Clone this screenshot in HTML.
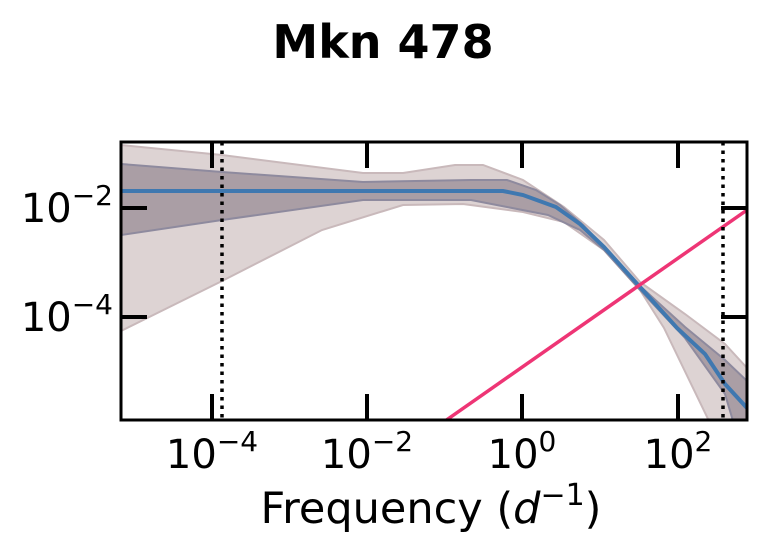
<!DOCTYPE html>
<html><head><style>body{margin:0;background:#fff}svg{display:block}</style></head><body>
<svg width="766" height="553" xmlns="http://www.w3.org/2000/svg" font-family="'DejaVu Sans','Liberation Sans',sans-serif">
<text x="383" y="58" text-anchor="middle" font-weight="bold" font-size="46">Mkn 478</text>
<defs><clipPath id="c"><rect x="121" y="142" width="626" height="278"/></clipPath></defs>
<g clip-path="url(#c)">
<path d="M121,145 L222,155 L363,173 L403,173 L455,165 L483,165 L523,180 L564,207 L604,240 L640,282 L685,314 L725,344 L747,368 L747,430 L709,421 L664,328 L640,290 L604,250 L564,222 L523,212 L463,204 L403,205 L322,230 L222,281 L121,331 Z" fill="#ddd3d3" stroke="#c9b9bb" stroke-width="2"/>
<path d="M121,164 L222,172 L363,182 L471,180 L507,180 L536,190 L560,205 L583,225 L604,247 L640,286 L685,327 L725,360 L747,381 L747,430 L733,421 L725,394 L685,338 L640,290 L604,250 L580,230 L548,215 L507,207 L471,200 L363,200 L222,220 L121,235 Z" fill="#aa9ea5" stroke="#8e8a9e" stroke-width="2"/>
<path d="M121,191 L503,191 L523,195 L556,207 L580,224 L604,247 L640,287 L677,328 L705,354 L725,384 L747,408" fill="none" stroke="#e8944e" stroke-width="2"/>
<path d="M121,191 L503,191 L523,195 L556,207 L580,224 L604,247 L640,287 L677,328 L705,354 L725,384 L747,408" fill="none" stroke="#3f78b0" stroke-width="4"/>
<line x1="445" y1="421" x2="747" y2="210" stroke="#ee3575" stroke-width="3.5"/>
</g>
<line x1="222" y1="142" x2="222" y2="420" stroke="#000" stroke-width="3.5" stroke-dasharray="3.5,5"/>
<line x1="723" y1="142" x2="723" y2="420" stroke="#000" stroke-width="3.5" stroke-dasharray="3.5,5"/>
<g stroke="#000" stroke-width="4">
<line x1="212" y1="142" x2="212" y2="168"/><line x1="367" y1="142" x2="367" y2="168"/><line x1="522" y1="142" x2="522" y2="168"/><line x1="678" y1="142" x2="678" y2="168"/>
<line x1="212" y1="394" x2="212" y2="420"/><line x1="367" y1="394" x2="367" y2="420"/><line x1="522" y1="394" x2="522" y2="420"/><line x1="678" y1="394" x2="678" y2="420"/>
<line x1="121" y1="208" x2="147" y2="208"/><line x1="121" y1="317" x2="147" y2="317"/>
<line x1="721" y1="208" x2="747" y2="208"/><line x1="721" y1="317" x2="747" y2="317"/>
</g>
<rect x="121" y="142" width="626" height="278" fill="none" stroke="#000" stroke-width="3"/>
<g font-size="40" fill="#000">
<text x="212" y="468" text-anchor="middle">10<tspan font-size="28" dy="-17">−4</tspan></text>
<text x="367" y="468" text-anchor="middle">10<tspan font-size="28" dy="-17">−2</tspan></text>
<text x="522" y="468" text-anchor="middle">10<tspan font-size="28" dy="-17">0</tspan></text>
<text x="678" y="468" text-anchor="middle">10<tspan font-size="28" dy="-17">2</tspan></text>
<text x="113" y="222" text-anchor="end">10<tspan font-size="28" dy="-17">−2</tspan></text>
<text x="113" y="331" text-anchor="end">10<tspan font-size="28" dy="-17">−4</tspan></text>
<text x="431" y="523" text-anchor="middle" font-size="43">Frequency (<tspan font-style="italic">d</tspan><tspan font-size="30" dy="-18">−1</tspan><tspan dy="18">)</tspan></text>
</g>
</svg>
</body></html>
